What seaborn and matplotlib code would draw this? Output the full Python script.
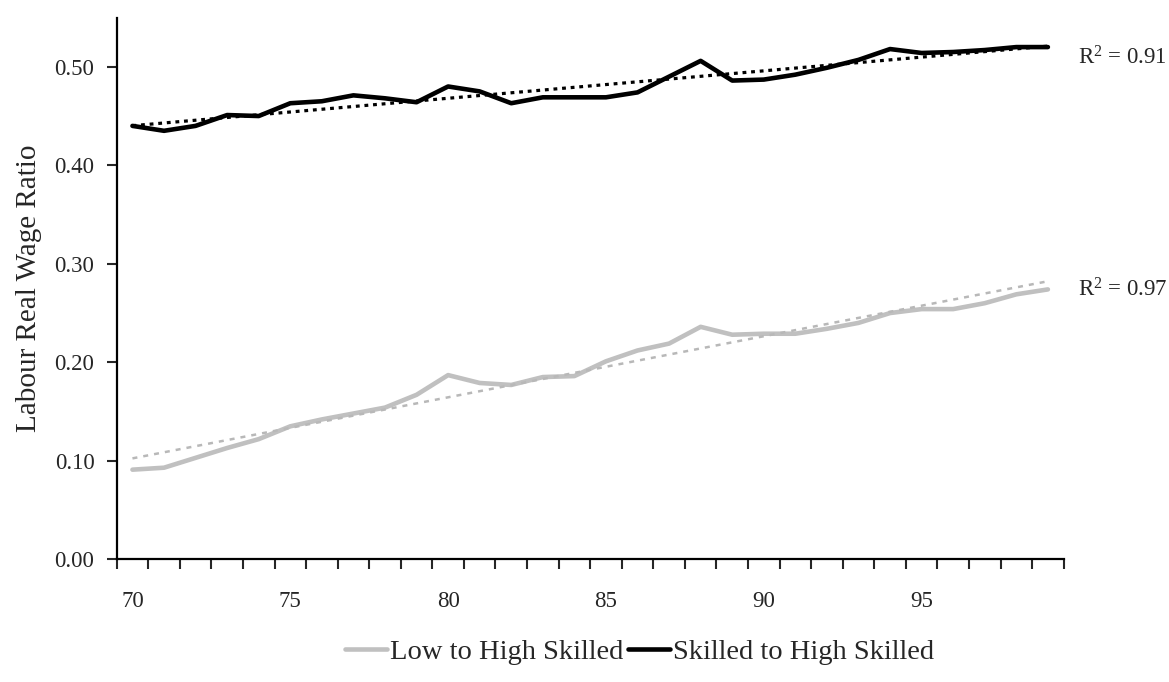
import matplotlib
matplotlib.use("Agg")
import matplotlib.pyplot as plt
from matplotlib.lines import Line2D
import numpy as np
import pandas as pd
import seaborn as sns

# Years (19xx) and wage ratios
years = list(range(70, 100))
low_to_high = [0.091, 0.093, 0.103, 0.113, 0.122, 0.135, 0.142, 0.148, 0.154, 0.167,
               0.187, 0.179, 0.177, 0.185, 0.186, 0.201, 0.212, 0.219, 0.236, 0.228,
               0.229, 0.229, 0.234, 0.240, 0.250, 0.254, 0.254, 0.260, 0.269, 0.274]
skilled_to_high = [0.440, 0.435, 0.440, 0.451, 0.450, 0.463, 0.465, 0.471, 0.468, 0.464,
                   0.480, 0.475, 0.463, 0.469, 0.469, 0.469, 0.474, 0.490, 0.506, 0.486,
                   0.487, 0.492, 0.499, 0.507, 0.518, 0.514, 0.515, 0.517, 0.520, 0.520]
series_names = ["Low to High Skilled", "Skilled to High Skilled"]
r2_values = [0.97, 0.91]
y_ticks = [0.0, 0.1, 0.2, 0.3, 0.4, 0.5]
x_labels = [70, 75, 80, 85, 90, 95]

series_colors = {"Low to High Skilled": "#c0c0c0", "Skilled to High Skilled": "#000000"}
trend_styles = {"Low to High Skilled": dict(color="#b8b8b8", lw=1.8, ls=(0, (2.0, 2.4))),
                "Skilled to High Skilled": dict(color="#000000", lw=2.3, ls=(0, (1.2, 1.5)))}

df = pd.DataFrame({
    "year": years * 2,
    "ratio": low_to_high + skilled_to_high,
    "series": [series_names[0]] * len(years) + [series_names[1]] * len(years),
})

sns.set_style("ticks")
plt.rcParams["font.family"] = ["Liberation Serif", "DejaVu Serif"]
plt.rcParams["mathtext.fontset"] = "custom"
plt.rcParams["mathtext.rm"] = "Liberation Serif"
plt.rcParams["mathtext.it"] = "Liberation Serif"

fig = plt.figure(figsize=(11.69, 6.82), dpi=100)
ax = fig.add_axes([0.0998, 0.1799, 0.9099 - 0.0998, 0.9743 - 0.1799])

sns.lineplot(data=df, x="year", y="ratio", hue="series", hue_order=series_names,
             palette=series_colors, linewidth=3.3, ax=ax, legend=False)

# Linear trend lines
for name in series_names:
    sub = df[df["series"] == name]
    st = trend_styles[name]
    sns.regplot(data=sub, x="year", y="ratio", scatter=False, ci=None, ax=ax,
                line_kws=dict(color=st["color"], linewidth=st["lw"], linestyle=st["ls"]))

# R-squared labels at the right end of each series
label_offsets = {"Low to High Skilled": -7, "Skilled to High Skilled": -17}
for name, r2 in zip(series_names, r2_values):
    sub = df[df["series"] == name]
    ax.annotate(rf"R$^{{2}}$ = {r2:.2f}", xy=(sub["year"].iloc[-1], sub["ratio"].iloc[-1]),
                xytext=(30, label_offsets[name]), textcoords="offset pixels",
                ha="left", va="baseline", fontsize=16.5, annotation_clip=False)

ax.set_xlim(69.5, 99.5)
ax.set_ylim(0, 0.55)
ax.set_yticks(y_ticks)
ax.set_yticklabels([f"{v:.2f}" for v in y_ticks])
ax.set_xticks(np.arange(69.5, 100.0, 1.0))
ax.set_xticklabels([])
ax.set_xticks(x_labels, minor=True)
ax.set_xticklabels([str(v) for v in x_labels], minor=True)
ax.tick_params(axis="x", which="major", length=7, width=1.5, direction="out")
ax.tick_params(axis="x", which="minor", length=0, pad=23, labelsize=16.5)
ax.tick_params(axis="y", which="major", length=7, width=1.5, direction="out", pad=9, labelsize=16.5)
for s in ("left", "bottom"):
    ax.spines[s].set_linewidth(1.6)
    ax.spines[s].set_color("black")
for s in ("top", "right"):
    ax.spines[s].set_visible(False)

ax.set_xlabel("")
ax.set_ylabel("Labour Real Wage Ratio", fontsize=21, labelpad=9)

handles = [Line2D([0], [0], color=series_colors[n], linewidth=3.3) for n in series_names]
fig.legend(handles, series_names, loc="center", bbox_to_anchor=(0.547, 0.044), ncol=2,
           frameon=False, fontsize=20.5, handlelength=1.5, handletextpad=0.1,
           columnspacing=0.15)

fig.savefig("out.png", dpi=100)
